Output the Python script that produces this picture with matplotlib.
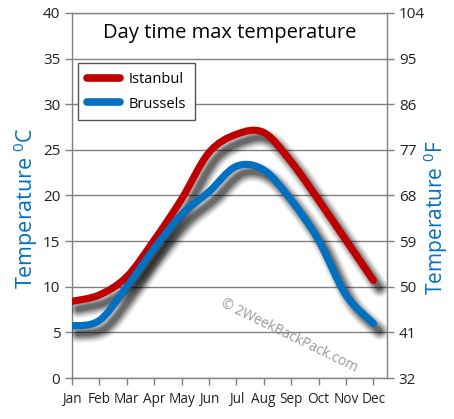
import matplotlib
matplotlib.use("Agg")
import matplotlib.pyplot as plt
import matplotlib.patheffects as pe
from matplotlib.path import Path
from matplotlib.patches import PathPatch
from matplotlib.lines import Line2D
import numpy as np

months = ["Jan", "Feb", "Mar", "Apr", "May", "Jun", "Jul", "Aug", "Sep", "Oct", "Nov", "Dec"]
istanbul = [8.4, 9.1, 11.1, 15.1, 19.6, 24.7, 26.7, 26.9, 23.7, 19.5, 15.1, 10.7]
brussels = [5.7, 6.3, 10.0, 14.2, 17.9, 20.4, 23.2, 22.8, 19.5, 15.1, 9.1, 6.0]
c_ticks = [0, 5, 10, 15, 20, 25, 30, 35, 40]
f_ticks = [32, 41, 50, 59, 68, 77, 86, 95, 104]

RED = "#C00000"
BLUE = "#0070C0"
GRID = "#808080"
FONT = ["Open Sans", "DejaVu Sans"]

plt.rcParams["font.family"] = FONT


def smooth_path(xs, ys):
    pts = np.column_stack([xs, ys]).astype(float)
    ext = np.vstack([pts[0], pts, pts[-1]])
    verts = [pts[0]]
    codes = [Path.MOVETO]
    for i in range(len(pts) - 1):
        p0, p1, p2, p3 = ext[i], ext[i + 1], ext[i + 2], ext[i + 3]
        c1 = p1 + (p2 - p0) / 6.0
        c2 = p2 - (p3 - p1) / 6.0
        verts += [c1, c2, p2]
        codes += [Path.CURVE4] * 3
    return Path(verts, codes)


fig = plt.figure(figsize=(4.54, 4.19), dpi=100)
ax = fig.add_axes([72 / 454, 41 / 419, 315 / 454, 365 / 419])
ax.set_xlim(0, 11.5)
ax.set_ylim(0, 40)

x = np.arange(len(months))
off = (4.5, -5.5)
shadow = [pe.Stroke(offset=off, linewidth=w, foreground="black", alpha=a)
          for w, a in [(14, 0.04), (12.5, 0.05), (11, 0.07), (9.5, 0.09),
                       (8, 0.11), (6.5, 0.13), (5, 0.15), (3.5, 0.17)]]
shadow.append(pe.Normal())
for vals, col in [(istanbul, RED), (brussels, BLUE)]:
    patch = PathPatch(smooth_path(x, vals), facecolor="none", edgecolor=col,
                      linewidth=5.2, capstyle="round", joinstyle="round", zorder=3)
    patch.set_path_effects(shadow)
    ax.add_patch(patch)

ax.set_yticks(c_ticks)
ax.set_yticklabels([str(v) for v in c_ticks])
ax.set_xticks(x)
ax.set_xticklabels(months)
ax.grid(axis="y", color=GRID, linewidth=1)
ax.set_axisbelow(True)
for s in ax.spines.values():
    s.set_color(GRID)
    s.set_linewidth(1)
ax.tick_params(axis="both", colors=GRID, length=5, width=1, labelcolor="#222222", labelsize=11)
ax.tick_params(axis="x", labelsize=9.8, pad=5)

ax2 = ax.twinx()
ax2.set_ylim(32, 104)
ax2.set_yticks(f_ticks)
ax2.set_yticklabels([str(v) for v in f_ticks])
for s in ax2.spines.values():
    s.set_visible(False)
ax2.tick_params(axis="y", colors=GRID, length=5, width=1, labelcolor="#222222", labelsize=11)

fig.text(26 / 454, 1 - 208 / 419, "Temperature $^{\\mathregular{0}}$C", rotation=90,
         color=BLUE, fontsize=15.5, ha="center", va="center")
fig.text(436 / 454, 1 - 218 / 419, "Temperature $^{\\mathregular{0}}$F", rotation=90,
         color=BLUE, fontsize=15, ha="center", va="center")

ax.text(0.5, 0.945, "Day time max temperature", transform=ax.transAxes,
        ha="center", va="center", fontsize=14.5, color="black")

handles = [Line2D([], [], color=RED, linewidth=5.5, solid_capstyle="round"),
           Line2D([], [], color=BLUE, linewidth=5.5, solid_capstyle="round")]
leg = ax.legend(handles, ["Istanbul", "Brussels"], loc="upper left",
                bbox_to_anchor=(0.019, 0.862), borderaxespad=0, fancybox=False,
                framealpha=1, edgecolor="#555555", fontsize=10.5, handlelength=2.3,
                borderpad=0.6, labelspacing=0.65, handletextpad=0.6)
leg.get_frame().set_linewidth(1)

ax.text((289 - 72) / 315, 1 - (336 - 13) / 365, "\u00a9 2WeekBackPack.com",
        transform=ax.transAxes, rotation=-26, ha="center", va="center",
        fontsize=10, color="#999999")

fig.savefig("out.png", dpi=100)
